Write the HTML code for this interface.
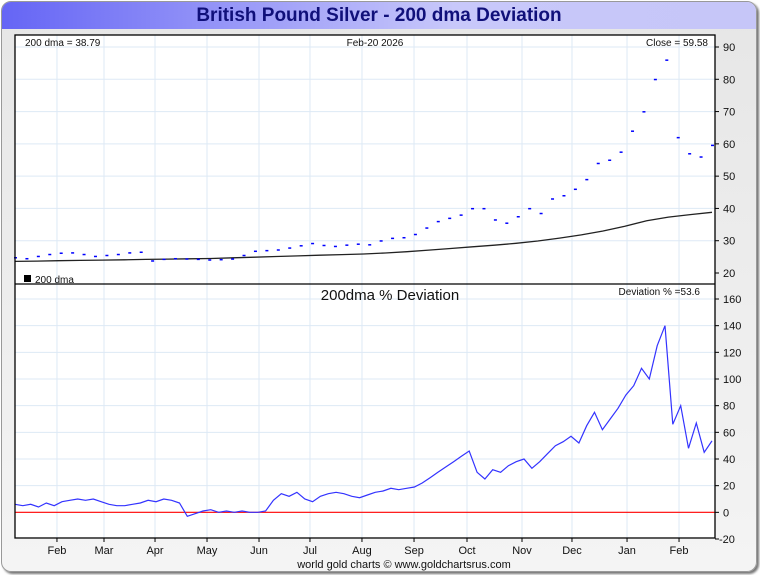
<!DOCTYPE html>
<html><head><meta charset="utf-8"><style>
body{margin:0;width:760px;height:575px;background:#fff;font-family:"Liberation Sans",sans-serif;overflow:hidden}
#frame{position:absolute;left:1px;top:1px;width:754px;height:569px;border:1px solid #999;border-radius:10px;background:linear-gradient(#e6e6e6,#f4f4f4);box-shadow:2px 2px 2px #777}
#title{position:absolute;left:2px;top:2px;width:754px;height:27px;border-radius:9px 9px 0 0;background:linear-gradient(90deg,#6565f5,#c8c8fa 60%,#c6c6f8);text-align:center;font:bold 19px "Liberation Sans",sans-serif;color:#10107a;line-height:28px}
</style></head><body>
<div id="frame"></div>
<div id="title">British Pound Silver - 200 dma Deviation</div>
<svg id="c" width="760" height="575" style="position:absolute;left:0;top:0"></svg>
<script>
const months=["Feb","Mar","Apr","May","Jun","Jul","Aug","Sep","Oct","Nov","Dec","Jan","Feb"];
const monthPos=[0.0602,0.1277,0.2009,0.2755,0.3501,0.4232,0.4978,0.5725,0.6485,0.7274,0.7991,0.8781,0.9527];
const priceTicks=[20,30,40,50,60,70,80,90];
const devTicks=[-20,0,20,40,60,80,100,120,140,160];
const price=[24.8,24.5,25.2,25.8,26.2,26.3,25.8,25.2,25.5,25.8,26.3,26.5,23.8,24.3,24.5,24.4,24.3,24.1,24.2,24.4,25.5,26.8,27,27.2,27.8,28.5,29.2,28.6,28.3,28.7,29,28.8,30,30.8,31,32,34,36,37,38,40,40,36.5,35.5,37.5,40,38.5,43,44,46,49,54,55,57.5,64,70,80,86,62,57,56,59.6];
const dma=[23.6,23.7,23.8,23.9,24.0,24.1,24.2,24.3,24.4,24.5,24.7,24.9,25.1,25.3,25.5,25.7,25.9,26.2,26.6,27.1,27.6,28.1,28.6,29.2,29.9,30.8,31.8,33.0,34.5,36.2,37.3,38.1,38.79];
const dev=[6,5,6,4,7,5,8,9,10,9,10,8,6,5,5,6,7,9,8,10,9,7,-3,-1,1,2,0,1,0,1,0,0,1,9,14,12,15,10,8,12,14,15,14,12,11,13,15,16,18,17,18,19,22,26,30,34,38,42,46,30,25,32,30,35,38,40,33,38,44,50,53,57,52,65,75,62,70,78,88,95,108,100,125,140,66,80,48,67,45,53.6];
const svg=document.getElementById('c'),NS='http://www.w3.org/2000/svg';
function mk(t,a,p){const e=document.createElementNS(NS,t);for(const k in a)e.setAttribute(k,a[k]);(p||svg).appendChild(e);return e}
const L=15,R=715,X0=15,X1=712;
const yP=v=>47+(90-v)*(226/70);
const yD=v=>299+(160-v)*(240/180);
const xi=(i,n)=>X0+i*(X1-X0)/(n-1);
mk('rect',{x:L,y:35,width:R-L,height:504,fill:'#fff'});
monthPos.forEach((p,i)=>{const x=X0+p*(X1-X0);
 const g=mk('line',{x1:x,x2:x,y1:35,y2:538,stroke:'#dde9f5'});
 mk('line',{x1:x,x2:x,y1:538,y2:542,stroke:'#000'});
 const t=mk('text',{x:x,y:554,'font-size':11,'text-anchor':'middle',fill:'#111'});t.textContent=months[i];
 });
priceTicks.forEach(v=>{const y=yP(v);
 if(v>20)mk('line',{x1:L,x2:R,y1:y,y2:y,stroke:'#dde9f5'});
 mk('line',{x1:R,x2:R+4,y1:y,y2:y,stroke:'#000'});
 const t=mk('text',{x:723,y:y+4,'font-size':11,fill:'#111'});t.textContent=v;
 });
devTicks.forEach(v=>{const y=yD(v);
 if(v>-20&&v!==0)mk('line',{x1:L,x2:R,y1:y,y2:y,stroke:'#dde9f5'});
 mk('line',{x1:R,x2:R+4,y1:y,y2:y,stroke:'#000'});
 const t=mk('text',{x:v<0?719:723,y:y+4,'font-size':11,fill:'#111'});t.textContent=v;
 });
let d=dma.map((v,i)=>(i?'L':'M')+xi(i,dma.length).toFixed(1)+' '+yP(v).toFixed(1)).join(' ');
const dl=mk('path',{d:d,fill:'none',stroke:'#222','stroke-width':1.3});

price.forEach((v,i)=>{const r=mk('rect',{x:xi(i,price.length)-1,y:yP(v)-0.5,width:3,height:1.5,fill:'#00f'});
 });
mk('line',{x1:L,x2:R,y1:yD(0),y2:yD(0),stroke:'#f00','stroke-width':1.2});
d=dev.map((v,i)=>(i?'L':'M')+xi(i,dev.length).toFixed(1)+' '+yD(v).toFixed(1)).join(' ');
const dv=mk('path',{d:d,fill:'none',stroke:'#33f','stroke-width':1.2});

mk('rect',{x:L,y:35,width:R-L,height:503,fill:'none',stroke:'#000','stroke-width':1.3});
mk('line',{x1:L,x2:R,y1:284,y2:284,stroke:'#000','stroke-width':1.3});
function txt(x,y,s,str,name,anchor){const t=mk('text',{x:x,y:y,'font-size':s,fill:'#111','text-anchor':anchor||'start'});t.textContent=str;
 }
txt(25,46,10,'200 dma =  38.79','dma-value-label');
txt(375,46,10,'Feb-20  2026','date-label','middle');
txt(708,46,10,'Close = 59.58','close-label','end');
mk('rect',{x:24,y:275,width:7,height:7,fill:'#000'});
txt(35,283,10,'200 dma','dma-legend');
txt(390,300,15,'200dma  %  Deviation','deviation-panel-title','middle');
txt(700,295,10,'Deviation % =53.6','deviation-value-label','end');
txt(404,568,11,'world gold charts © www.goldchartsrus.com','credit-label','middle');
</script>
</body></html>
